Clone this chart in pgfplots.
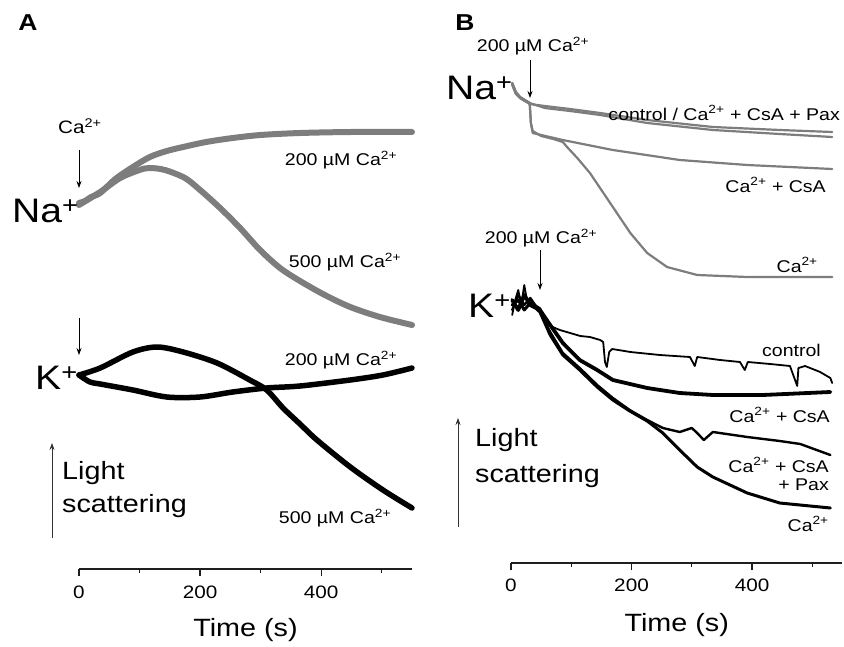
\documentclass[border=0pt]{standalone}
\usepackage{fontspec}
\setmainfont{Liberation Sans}
\usepackage{graphicx}
\usepackage{pgfplots}
\pgfplotsset{compat=1.18}
\usetikzlibrary{arrows.meta}
\definecolor{natrace}{RGB}{125,125,125}
\definecolor{axisdark}{RGB}{30,30,30}
\newcommand{\hs}[1]{\scalebox{1.15}[1]{#1}}
\newcommand{\fs}[1]{\fontsize{#1}{#1}\selectfont}
\newcommand{\Ca}{Ca\textsuperscript{2+}}

\pgfplotsset{
  trace/.style={
    scale only axis, clip=false,
    xmin=0, xmax=550, ymin=0,
    axis x line=bottom, axis y line=none,
    axis line style={-, line width=1.5pt, axisdark},
    xtick={0,200,400}, minor xtick={100,300,500},
    xticklabels={\hs{0},\hs{200},\hs{400}},
    tick align=outside, major tick length=7pt, minor tick length=4pt,
    tick style={line width=1.2pt, axisdark},
    xticklabel style={font=\fs{18}, inner sep=0pt, anchor=center},
    /pgf/number format/assume math mode=true,
    xlabel={\hs{Time (s)}},
    xlabel style={font=\fs{25}, inner sep=0pt, anchor=center},
    every axis plot/.append style={line join=round, line cap=round},
  }
}

\begin{document}
\begin{tikzpicture}
\path[use as bounding box] (0,0) rectangle (844pt,646pt);

% ---------------- panel A ----------------
\begin{axis}[trace, at={(79pt,77pt)}, anchor=south west,
  width=333pt, height=569pt, ymax=569,
  xticklabel style={yshift=-16pt},
  xlabel style={at={(axis description cs:0.5,0)}, yshift=-61pt}]
% Na+, 200 uM Ca
\addplot[natrace, line width=6pt, smooth, tension=0.5] coordinates {
  (0,366) (10,368) (20,372) (35,376) (60,390) (89,402) (117,412) (145,418)
  (172,422) (210,427) (254,431) (300,434) (365,436) (450,437) (550,437)};
% Na+, 500 uM Ca
\addplot[natrace, line width=6pt, smooth, tension=0.5] coordinates {
  (0,364) (35,377) (68,391) (100,399) (117,401) (142,399) (175,391) (200,379)
  (233,361) (266,341) (299,319) (332,301) (365,288) (406,274) (448,262)
  (497,252) (550,244)};
% K+, 200 uM Ca
\addplot[black, line width=5.5pt, smooth, tension=0.5] coordinates {
  (0,194) (18,187) (35,185) (89,179) (145,172) (200,172) (254,177) (310,181)
  (365,183) (448,189) (502,194) (550,201)};
% K+, 500 uM Ca
\addplot[black, line width=5.5pt, smooth, tension=0.5] coordinates {
  (0,194) (35,201) (89,217) (129,222) (172,217) (228,206) (282,189) (310,179)
  (337,161) (365,145) (393,129) (448,102) (502,79) (550,61)};
\end{axis}

% ---------------- panel B ----------------
\begin{axis}[trace, at={(511pt,83pt)}, anchor=south west,
  width=331.4pt, height=563pt, ymax=563,
  xticklabel style={yshift=-15pt},
  xlabel style={at={(axis description cs:0.5,0)}, yshift=-62pt}]
% Na+, control
\addplot[natrace, line width=2.2pt] coordinates {
  (2,480) (8,471) (15,466) (23,463) (31,460) (56,455) (98,452) (148,448)
  (226,440) (335,433) (446,429) (533,426)};
% Na+, Ca + CsA + Pax
\addplot[natrace, line width=2.2pt] coordinates {
  (2,478) (8,469) (15,465) (23,462) (31,459) (56,457) (98,454) (148,450)
  (226,443) (335,436) (446,433) (533,431)};
% Na+, Ca + CsA
\addplot[natrace, line width=2.2pt] coordinates {
  (2,479) (8,470) (15,465) (23,462) (31,460) (33,440) (36,430) (50,428)
  (86,423) (169,413) (280,403) (392,398) (533,394)};
% Na+, Ca
\addplot[natrace, line width=2.2pt] coordinates {
  (2,480) (8,471) (15,466) (23,463) (31,460) (33,440) (36,432) (50,427)
  (70,424) (86,421) (93,416) (110,405) (131,390) (150,373) (169,356)
  (198,330) (226,310) (259,296) (309,288) (392,286) (533,286)};
% K+, control
\addplot[black, line width=1.8pt] coordinates {
  (2,248) (7,263) (12,273) (17,258) (22,278) (27,261) (32,263) (40,258)
  (48,255) (56,245) (65,237) (81,233) (98,230) (115,227) (131,226) (148,223)
  (153,221) (156,201) (159,196) (163,211) (168,214) (198,211) (247,208)
  (297,206) (305,197) (309,206) (347,203) (380,201) (388,193) (393,201)
  (430,199) (463,197) (475,177) (477,195) (488,197) (513,191) (530,185)
  (533,180)};
% K+, Ca + CsA
\addplot[black, line width=3.8pt] coordinates {
  (2,263) (12,253) (22,268) (32,258) (48,253) (65,238) (86,220) (114,203)
  (143,193) (169,183) (226,175) (280,170) (335,168) (418,168) (530,171)};
% K+, Ca + CsA + Pax
\addplot[black, line width=2.4pt] coordinates {
  (2,253) (12,268) (22,258) (32,265) (48,251) (65,231) (86,210) (114,195)
  (143,178) (169,165) (197,153) (226,143) (252,135) (280,131) (300,135)
  (309,130) (320,123) (335,131) (392,126) (446,122) (480,119) (530,108)};
% K+, Ca
\addplot[black, line width=3pt] coordinates {
  (2,258) (12,263) (22,253) (32,260) (48,251) (65,228) (86,208) (114,193)
  (143,176) (169,163) (197,152) (226,142) (252,130) (280,113) (309,96)
  (335,86) (392,70) (446,60) (530,55)};
\end{axis}

% ---------------- annotations ----------------
\tikzset{lab/.style={inner sep=0pt, font=\fs{17}}}
\node[inner sep=0pt, font=\fs{23}\bfseries] at (28pt,623pt) {\hs{A}};
\node[inner sep=0pt, font=\fs{23}\bfseries] at (465pt,623pt) {\hs{B}};

% panel A
\node[lab, font=\fs{18}] at (80pt,520pt) {\hs{\Ca}};
\draw[-{Stealth[length=7pt,width=5pt]}, line width=0.8pt] (79pt,496pt) -- (79pt,458pt);
\node[inner sep=0pt, anchor=base west, font=\fs{34}] at (12pt,423pt) {\hs{Na\textsuperscript{+}}};
\draw[-{Stealth[length=7pt,width=5pt]}, line width=0.8pt] (79pt,328pt) -- (79pt,291pt);
\node[inner sep=0pt, anchor=base west, font=\fs{34}] at (35pt,256pt) {\hs{K\textsuperscript{+}}};
\node[lab] at (341pt,486pt) {\hs{200 µM \Ca}};
\node[lab] at (345pt,384pt) {\hs{500 µM \Ca}};
\node[lab] at (341pt,286pt) {\hs{200 µM \Ca}};
\node[lab] at (335pt,128pt) {\hs{500 µM \Ca}};
\draw[-{Stealth[length=7pt,width=5pt]}, line width=0.8pt, black!80] (52pt,108pt) -- (52pt,203pt);
\node[inner sep=0pt, anchor=base west, font=\fs{25}] at (62pt,166pt) {\hs{Light}};
\node[inner sep=0pt, anchor=base west, font=\fs{25}] at (62pt,133pt) {\hs{scattering}};

% panel B
\node[lab] at (533pt,600pt) {\hs{200 µM \Ca}};
\draw[-{Stealth[length=7pt,width=5pt]}, line width=0.8pt] (530pt,586pt) -- (530pt,548pt);
\node[inner sep=0pt, anchor=base west, font=\fs{34}] at (446pt,546pt) {\hs{Na\textsuperscript{+}}};
\node[lab, anchor=east] at (840pt,533pt) {\hs{control / \Ca{} + CsA + Pax}};
\node[lab, anchor=east] at (826pt,461pt) {\hs{\Ca{} + CsA}};
\node[lab, anchor=east] at (818pt,381pt) {\hs{\Ca}};
\node[lab] at (541pt,408pt) {\hs{200 µM \Ca}};
\draw[-{Stealth[length=7pt,width=5pt]}, line width=0.8pt] (540pt,396pt) -- (540pt,356pt);
\node[inner sep=0pt, anchor=base west, font=\fs{34}] at (468pt,328pt) {\hs{K\textsuperscript{+}}};
\node[lab, anchor=east] at (821pt,296pt) {\hs{control}};
\node[lab, anchor=east] at (830pt,231pt) {\hs{\Ca{} + CsA}};
\node[lab, anchor=east] at (829pt,181pt) {\hs{\Ca{} + CsA}};
\node[lab, anchor=east] at (829pt,161pt) {\hs{+ Pax}};
\node[lab, anchor=east] at (829pt,122pt) {\hs{\Ca}};
\draw[-{Stealth[length=7pt,width=5pt]}, line width=0.8pt, black!80] (458pt,119pt) -- (458pt,228pt);
\node[inner sep=0pt, anchor=base west, font=\fs{25}] at (475pt,199pt) {\hs{Light}};
\node[inner sep=0pt, anchor=base west, font=\fs{25}] at (475pt,163pt) {\hs{scattering}};
\end{tikzpicture}
\end{document}
